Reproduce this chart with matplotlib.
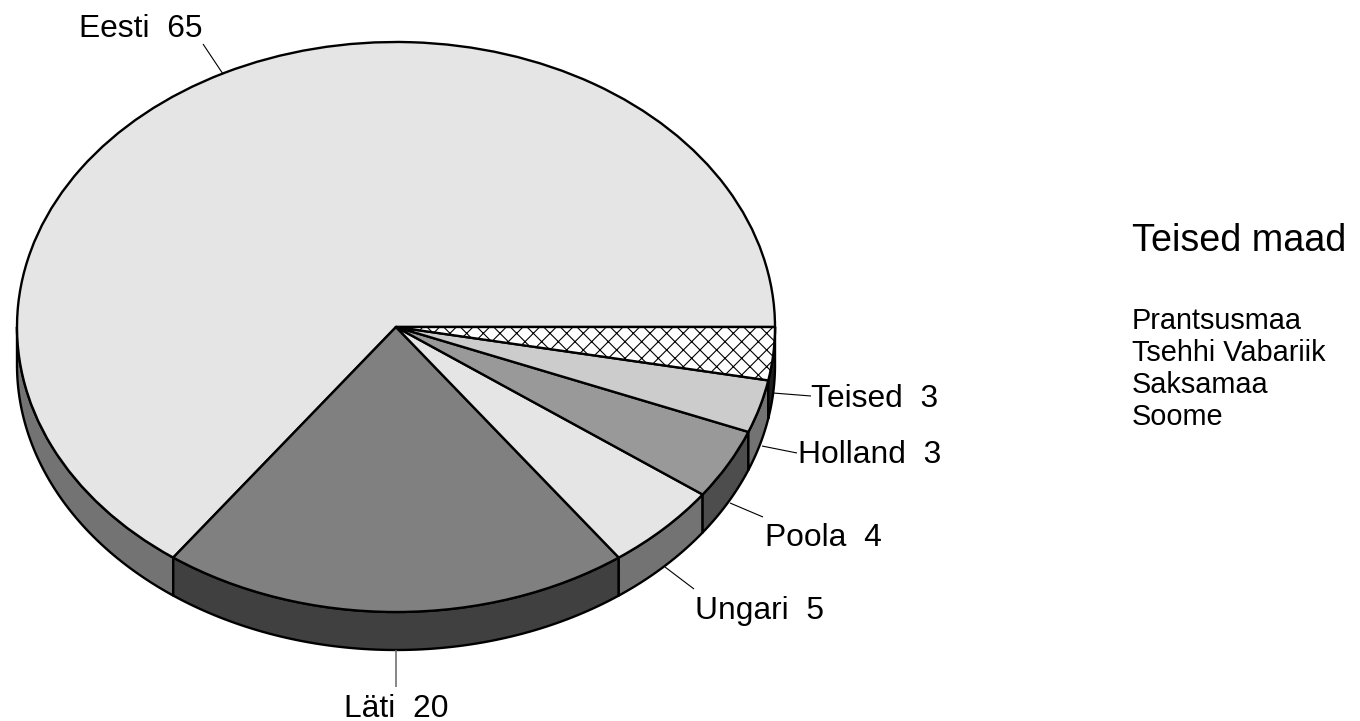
import numpy as np
import matplotlib
matplotlib.use("Agg")
import matplotlib.pyplot as plt
from matplotlib.patches import Polygon

plt.rcParams['font.family'] = ['Liberation Sans', 'DejaVu Sans']
plt.rcParams['hatch.linewidth'] = 0.8

# Data
countries = ["Eesti", "Läti", "Ungari", "Poola", "Holland", "Teised"]
values = [65, 20, 5, 4, 3, 3]
other_title = "Teised maad"
other_countries = ["Prantsusmaa", "Tsehhi Vabariik", "Saksamaa", "Soome"]

# Styles
top_colors = ["#e5e5e5", "#808080", "#e5e5e5", "#999999", "#cccccc", "#ffffff"]
side_colors = ["#737373", "#404040", "#737373", "#4d4d4d", "#737373", "#202020"]
hatches = [None, None, None, None, None, "xx"]

# Layout in pixels
W, H = 1360, 721
CX, CY, RX, RY, DEPTH = 396, 327, 379, 285, 38
label_pos = [(79, 37), (344, 717), (695, 619), (765, 546), (798, 463), (811, 407)]
leaders = [((223, 74), (203, 44)), ((396, 650), (396, 687)), ((665, 567), (694, 589)),
           ((730, 503), (763, 517)), ((762, 446), (797, 453)), ((773, 393), (811, 396))]

fig = plt.figure(figsize=(W / 100, H / 100), dpi=100, facecolor="white")
ax = fig.add_axes([0, 0, 1, 1])

# Top face: a unit pie stretched to an ellipse through the axes scales
ax.pie(values, colors=top_colors, hatch=hatches, startangle=0, counterclock=True,
       wedgeprops=dict(edgecolor="black", linewidth=1.7, joinstyle="round"))
ax.set_aspect("auto")
ax.set_xlim(-CX / RX, (W - CX) / RX)
ax.set_ylim((CY - H) / RY, CY / RY)
ax.axis("off")
for p in ax.patches:
    p.set_zorder(5)

# Side wall of every slice whose rim faces the viewer
d = DEPTH / RY
edges = np.cumsum([0] + values) / sum(values) * 2 * np.pi
for a0, a1, col in zip(edges[:-1], edges[1:], side_colors):
    lo, hi = max(a0, np.pi), min(a1, 2 * np.pi)
    if hi <= lo:
        continue
    t = np.linspace(lo, hi, 80)
    xs, ys = np.cos(t), np.sin(t)
    verts = np.r_[np.c_[xs, ys], np.c_[xs[::-1], ys[::-1] - d]]
    ax.add_patch(Polygon(verts, closed=True, facecolor=col, edgecolor="black",
                         linewidth=1.7, joinstyle="round", zorder=3))

# Overlay in pixel coordinates for labels
ov = fig.add_axes([0, 0, 1, 1])
ov.set_xlim(0, W)
ov.set_ylim(H, 0)
ov.axis("off")
ov.patch.set_alpha(0)

for name, v, (x, y), (p0, p1) in zip(countries, values, label_pos, leaders):
    ov.text(x, y, f"{name}  {v}", fontsize=22.9, color="black", ha="left", va="baseline")
    ov.plot([p0[0], p1[0]], [p0[1], p1[1]], color="black" if name != "Läti" else "#666666",
            lw=0.8 if name != "Läti" else 1.1, solid_capstyle="butt")

ov.text(1132, 251, other_title, fontsize=27.2, color="black", ha="left", va="baseline")
for name, y in zip(other_countries, [329, 361, 393, 425]):
    ov.text(1132, y, name, fontsize=20.8, color="black", ha="left", va="baseline")

fig.savefig("out.png", dpi=100, facecolor="white")
